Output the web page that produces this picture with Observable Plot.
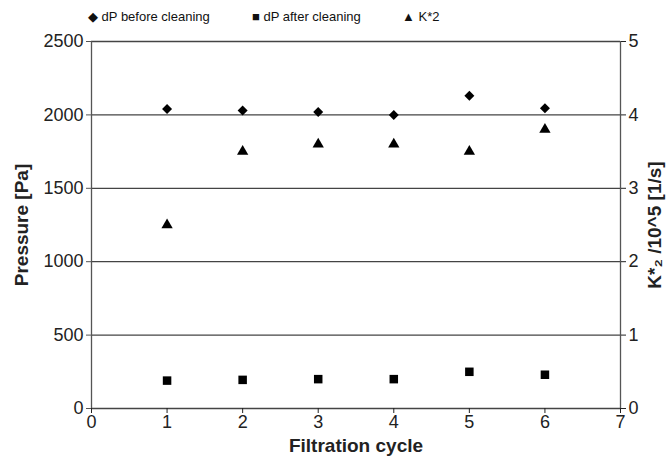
<!DOCTYPE html>
<html><head><meta charset="utf-8">
<script src="https://cdn.jsdelivr.net/npm/d3@7"></script>
<script src="https://cdn.jsdelivr.net/npm/@observablehq/plot@0.6"></script>
<style>
body{margin:0;background:#fff;font-family:"Liberation Sans",Arial,sans-serif;}
#legend{position:relative;height:30px;width:672px;font-size:13px;color:#111;}
#legend span{position:absolute;top:9px;white-space:nowrap;}
</style></head><body>
<div id="legend"></div>
<div id="chart"></div>
<script>
const cycles = [1, 2, 3, 4, 5, 6];
const dpBefore = [2040, 2030, 2020, 2000, 2130, 2045];
const dpAfter = [190, 195, 200, 200, 250, 230];
const kStar2 = [2.5, 3.5, 3.6, 3.6, 3.5, 3.8];
const yTicks = [0, 500, 1000, 1500, 2000, 2500];
const xTicks = [0, 1, 2, 3, 4, 5, 6, 7];
const seriesNames = ["dP before cleaning", "dP after cleaning", "K*2"];
const legendSymbols = ["◆", "■", "▲"];

const legendLeft = [88, 252, 402];
const lg = document.getElementById("legend");
seriesNames.forEach((n, i) => {
  const s = document.createElement("span");
  s.style.left = legendLeft[i] + "px";
  s.textContent = legendSymbols[i] + " " + n;
  lg.appendChild(s);
});

const before = cycles.map((c, i) => ({x: c, y: dpBefore[i]}));
const after = cycles.map((c, i) => ({x: c, y: dpAfter[i]}));
const kdata = cycles.map((c, i) => ({x: c, k: kStar2[i]}));

const chart = Plot.plot({
  width: 672, height: 426,
  marginTop: 11, marginBottom: 48, marginLeft: 91, marginRight: 52,
  style: {fontFamily: "Liberation Sans, Arial, sans-serif", fontSize: "18px", color: "#222"},
  x: {domain: [0, 7]},
  y: {domain: [0, 2500]},
  marks: [
    Plot.ruleY(yTicks, {stroke: "#444", strokeWidth: 1.3}),
    Plot.ruleX([0, 7], {stroke: "#555", strokeWidth: 1.3}),
    Plot.axisY({ticks: yTicks, tickSize: 5, tickPadding: 3, tickFormat: d => String(d), stroke: "#555", label: "Pressure [Pa]", labelAnchor: "center", labelOffset: 77, labelArrow: "none", fontSize: 18}),
    Plot.axisY({anchor: "right", ticks: yTicks, tickSize: 5, tickPadding: 3, tickFormat: d => String(d / 500), label: "K*₂ /10^5 [1/s]", labelAnchor: "center", labelOffset: 40, labelArrow: "none", fontSize: 18}),
    Plot.axisX({ticks: xTicks, tickSize: 5, tickPadding: 2, tickFormat: d => String(d), label: "Filtration cycle", labelAnchor: "center", labelOffset: 43, labelArrow: "none", fontSize: 18}),
    Plot.dot(before, {x: "x", y: "y", symbol: "diamond2", r: 4.5, fill: "#000", stroke: "none"}),
    Plot.dot(after, {x: "x", y: "y", symbol: "square", r: 4.8, fill: "#000", stroke: "none"}),
    Plot.dot(kdata, {x: "x", y: d => d.k * 500, symbol: "triangle", r: 4.2, fill: "#000", stroke: "none"})
  ]
});
document.getElementById("chart").appendChild(chart);
chart.querySelectorAll("g[aria-label='y-axis label'] text, g[aria-label='x-axis label'] text").forEach(t => {
  t.style.fontWeight = "bold"; t.style.fontSize = "19px";
});
</script>
</body></html>
